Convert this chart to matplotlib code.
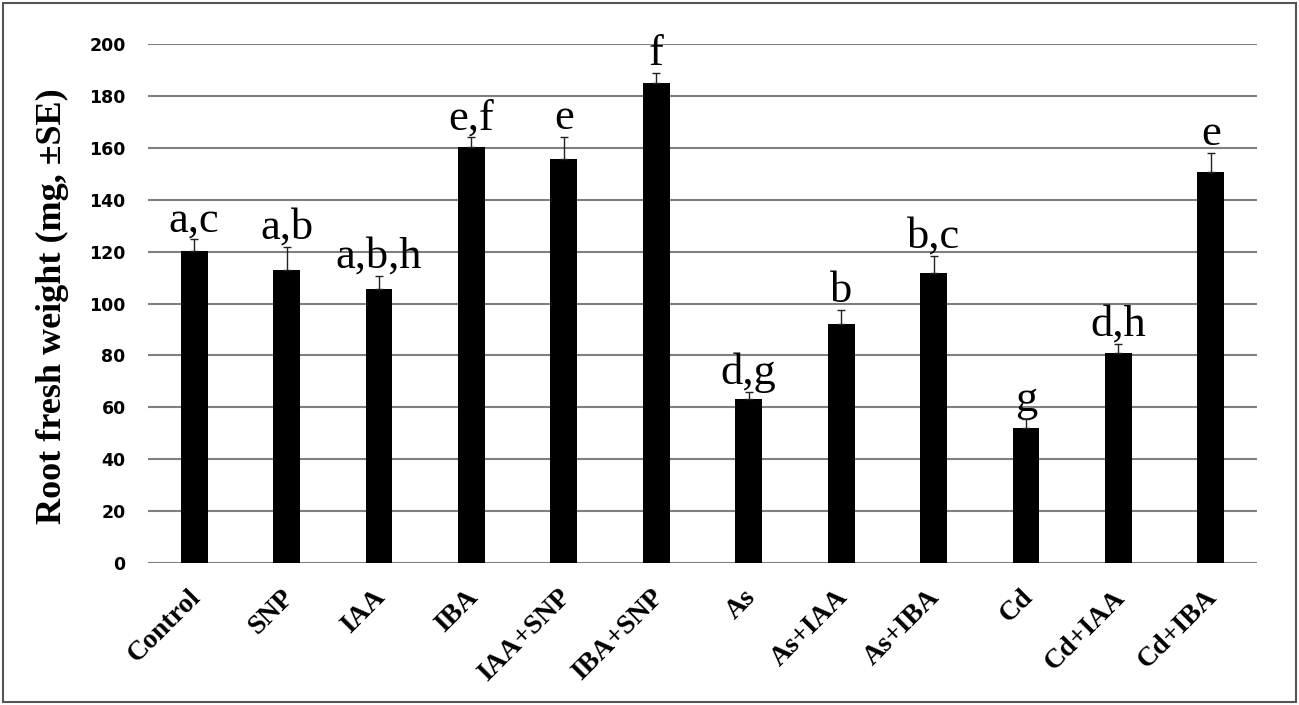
import matplotlib.pyplot as plt
from matplotlib.patches import Rectangle
from matplotlib.transforms import ScaledTranslation

# data
treatments = ["Control", "SNP", "IAA", "IBA", "IAA+SNP", "IBA+SNP",
              "As", "As+IAA", "As+IBA", "Cd", "Cd+IAA", "Cd+IBA"]
weight = [120.2, 113.0, 105.6, 160.4, 155.7, 185.1,
          63.1, 92.2, 111.9, 52.1, 81.0, 150.6]
se = [4.5, 8.8, 5.0, 3.6, 8.3, 3.6,
      2.7, 5.3, 6.4, 3.3, 3.4, 7.3]
letters = ["a,c", "a,b", "a,b,h", "e,f", "e", "f",
           "d,g", "b", "b,c", "g", "d,h", "e"]

serif = "Liberation Serif"

fig = plt.figure(figsize=(12.99, 7.05), dpi=100)
ax = fig.add_axes([0.1139, 0.2014, 0.8538, 0.7362])

x = list(range(len(treatments)))
ax.bar(x, weight, width=0.29, color="black", zorder=3)
ax.errorbar(x, weight, yerr=[[0] * len(se), se], fmt="none", ecolor="#222222",
            elinewidth=1.0, capsize=3, capthick=1.0, zorder=4)

for xi, w, s, lab in zip(x, weight, se, letters):
    ax.annotate(lab, (xi, w + s), xytext=(0, 6), textcoords="offset points",
                ha="center", va="baseline", fontsize=32, family=serif)

ax.set_xlim(-0.5, len(treatments) - 0.5)
ax.set_ylim(0, 200)
ax.set_yticks(range(0, 201, 20))
ax.yaxis.grid(True, color="#7f7f7f", linewidth=1.5, zorder=0)
ax.set_axisbelow(True)
for sp in ax.spines.values():
    sp.set_visible(False)
ax.tick_params(axis="both", length=0)
ax.tick_params(axis="y", pad=16)
ax.tick_params(axis="x", pad=22)

ax.set_yticklabels([str(v) for v in range(0, 201, 20)],
                   fontsize=12.5, fontweight="bold", family="DejaVu Sans")
ax.set_xticks(x)
ax.set_xticklabels(treatments, rotation=45, ha="right", va="center",
                   rotation_mode="anchor", fontsize=20, fontweight="bold",
                   family=serif)
shift = ScaledTranslation(2 / 72, 0, fig.dpi_scale_trans)
for lbl in ax.get_xticklabels():
    lbl.set_transform(lbl.get_transform() + shift)

ax.set_ylabel("Root fresh weight (mg, \u00b1SE)", fontsize=26,
              fontweight="bold", family=serif)
ax.yaxis.set_label_coords(-0.0712, 0.495)

fig.patches.append(Rectangle((0.0025, 0.004), 0.995, 0.992, transform=fig.transFigure,
                             fill=False, edgecolor="#555555", linewidth=1.5))

fig.savefig("out.png", dpi=100)
